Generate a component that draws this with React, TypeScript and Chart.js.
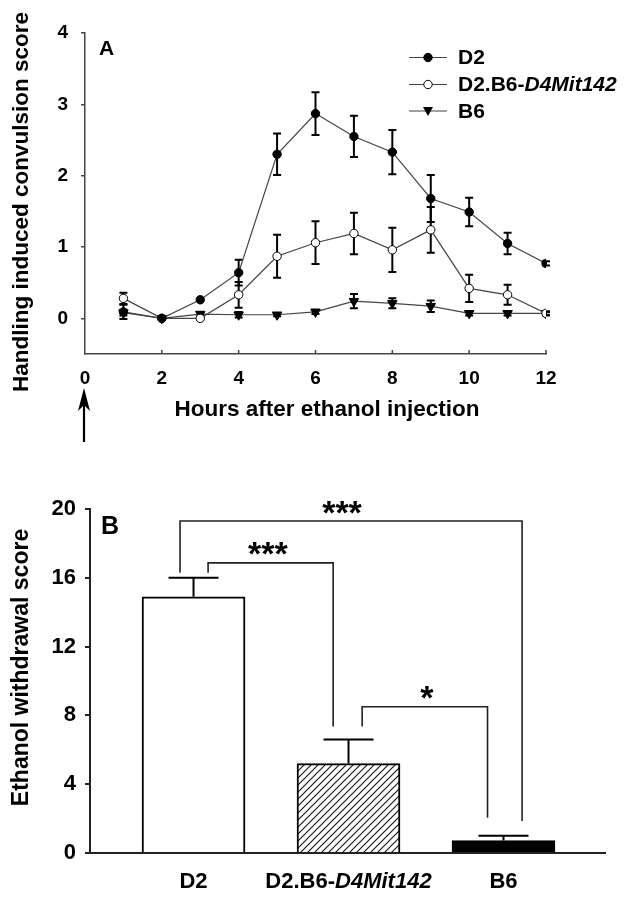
import React, { useEffect, useRef } from 'react';
import { Chart, registerables } from 'chart.js';

Chart.register(...registerables);

// ---------- Panel A data ----------
const hours = [1, 2, 3, 4, 5, 6, 7, 8, 9, 10, 11, 12];
const d2Scores = [0.09, 0, 0.26, 0.64, 2.3, 2.87, 2.55, 2.33, 1.68, 1.49, 1.05, 0.77];
const d2Sem = [0.1, 0, 0, 0.18, 0.29, 0.3, 0.29, 0.31, 0.33, 0.2, 0.15, 0.03];
const congenicScores = [0.28, 0, 0, 0.33, 0.87, 1.06, 1.19, 0.96, 1.24, 0.42, 0.33, 0.07];
const congenicSem = [0.08, 0, 0, 0.18, 0.3, 0.3, 0.29, 0.31, 0.32, 0.19, 0.14, 0.02];
const b6Scores = [0.08, 0, 0.06, 0.05, 0.05, 0.09, 0.24, 0.21, 0.17, 0.07, 0.07, 0.07];
const b6Sem = [0.04, 0, 0.03, 0.04, 0.02, 0.03, 0.1, 0.07, 0.08, 0.03, 0.03, 0.03];
const yTicksA = [0, 1, 2, 3, 4];
const seriesNames = ['D2', 'D2.B6-', 'B6'];
const seriesItalic = ['', 'D4Mit142', ''];

// ---------- Panel B data ----------
const groupLabels = ['D2', 'D2.B6-', 'B6'];
const groupItalic = ['', 'D4Mit142', ''];
const groupPos = [1, 2, 3];
const withdrawal = [14.9, 5.2, 0.72];
const withdrawalSem = [1.1, 1.4, 0.29];
// significance brackets (data units)
const bracketLeftX = [0.913, 1.094, 2.088];
const bracketRightX = [3.12, 1.901, 2.897];
const bracketTop = [19.3, 16.87, 8.5];
const bracketLeftEnd = [16.3, 16.3, 7.35];
const bracketRightEnd = [1.86, 7.35, 2.05];
const bracketLabelX = [1.958, 1.48, 2.506];
const bracketText = ['***', '***', '*'];

const FONT = "'Liberation Sans', Arial, Helvetica, sans-serif";

function makeHatch(): CanvasPattern | string {
  const c = document.createElement('canvas');
  c.width = 7;
  c.height = 7;
  const g = c.getContext('2d');
  if (!g) return '#888';
  g.fillStyle = '#fff';
  g.fillRect(0, 0, 7, 7);
  g.strokeStyle = '#111';
  g.lineWidth = 1.1;
  g.beginPath();
  g.moveTo(-1, 8);
  g.lineTo(8, -1);
  g.moveTo(-1, 1);
  g.lineTo(1, -1);
  g.moveTo(6, 8);
  g.lineTo(8, 6);
  g.stroke();
  return g.createPattern(c, 'repeat') || '#888';
}

function drawMixed(ctx: CanvasRenderingContext2D, plain: string, italic: string, cx: number, cy: number, size: number, align: 'center' | 'left') {
  ctx.save();
  ctx.textBaseline = 'middle';
  ctx.textAlign = 'left';
  ctx.fillStyle = '#000';
  ctx.font = `bold ${size}px ${FONT}`;
  const w1 = ctx.measureText(plain).width;
  ctx.font = `italic bold ${size}px ${FONT}`;
  const w2 = italic ? ctx.measureText(italic).width : 0;
  const x = align === 'center' ? cx - (w1 + w2) / 2 : cx;
  ctx.font = `bold ${size}px ${FONT}`;
  ctx.fillText(plain, x, cy);
  if (italic) {
    ctx.font = `italic bold ${size}px ${FONT}`;
    ctx.fillText(italic, x + w1, cy);
  }
  ctx.restore();
}

function drawMarker(ctx: CanvasRenderingContext2D, kind: number, x: number, y: number) {
  ctx.save();
  ctx.strokeStyle = '#000';
  ctx.lineWidth = 1;
  if (kind === 0 || kind === 1) {
    ctx.beginPath();
    ctx.arc(x, y, 4.2, 0, Math.PI * 2);
    ctx.fillStyle = kind === 0 ? '#000' : '#fff';
    ctx.fill();
    ctx.stroke();
  } else {
    ctx.beginPath();
    ctx.moveTo(x - 5, y - 4);
    ctx.lineTo(x + 5, y - 4);
    ctx.lineTo(x, y + 5);
    ctx.closePath();
    ctx.fillStyle = '#000';
    ctx.fill();
  }
  ctx.restore();
}

const seriesA = [
  { mean: d2Scores, err: d2Sem },
  { mean: congenicScores, err: congenicSem },
  { mean: b6Scores, err: b6Sem },
];

const errorBarsA = {
  id: 'errorBarsA',
  beforeDatasetsDraw(chart: any) {
    const { ctx, scales } = chart;
    const x = scales.x;
    const y = scales.y;
    ctx.save();
    ctx.strokeStyle = '#000';
    ctx.lineWidth = 2;
    seriesA.forEach((s) => {
      s.err.forEach((e, i) => {
        if (!e) return;
        const px = x.getPixelForValue(hours[i]);
        const top = y.getPixelForValue(s.mean[i] + e);
        const bot = y.getPixelForValue(s.mean[i] - e);
        ctx.beginPath();
        ctx.moveTo(px, top);
        ctx.lineTo(px, bot);
        ctx.moveTo(px - 4, top);
        ctx.lineTo(px + 4, top);
        ctx.moveTo(px - 4, bot);
        ctx.lineTo(px + 4, bot);
        ctx.stroke();
      });
    });
    ctx.restore();
  },
};

const decorA = {
  id: 'decorA',
  afterDraw(chart: any) {
    const { ctx, scales, chartArea } = chart;
    const x = scales.x;
    ctx.save();
    // inward x ticks
    ctx.strokeStyle = '#444';
    ctx.lineWidth = 1.5;
    x.ticks.forEach((t: any) => {
      if (t.value === 0) return;
      const px = x.getPixelForValue(t.value);
      ctx.beginPath();
      ctx.moveTo(px, chartArea.bottom);
      ctx.lineTo(px, chartArea.bottom - 4);
      ctx.stroke();
    });
    // panel letter
    ctx.fillStyle = '#000';
    ctx.font = `bold 21px ${FONT}`;
    ctx.textAlign = 'left';
    ctx.textBaseline = 'alphabetic';
    ctx.fillText('A', 99, 55);
    // axis titles
    ctx.font = `bold 22.5px ${FONT}`;
    ctx.textAlign = 'center';
    ctx.fillText('Hours after ethanol injection', 327, 416);
    ctx.save();
    ctx.translate(28, 202);
    ctx.rotate(-Math.PI / 2);
    ctx.fillText('Handling induced convulsion score', 0, 0);
    ctx.restore();
    // arrow
    const ax = x.getPixelForValue(0) - 1;
    ctx.strokeStyle = '#000';
    ctx.lineWidth = 2.2;
    ctx.beginPath();
    ctx.moveTo(ax, 442);
    ctx.lineTo(ax, 404);
    ctx.stroke();
    ctx.beginPath();
    ctx.moveTo(ax, 388);
    ctx.lineTo(ax - 6, 411);
    ctx.lineTo(ax, 405);
    ctx.lineTo(ax + 6, 411);
    ctx.closePath();
    ctx.fillStyle = '#000';
    ctx.fill();
    // legend
    const rows = [57.5, 84.5, 111];
    rows.forEach((ry, k) => {
      ctx.strokeStyle = '#444';
      ctx.lineWidth = 1.2;
      ctx.beginPath();
      ctx.moveTo(409, ry);
      ctx.lineTo(447, ry);
      ctx.stroke();
      drawMarker(ctx, k, 428, ry);
      drawMixed(ctx, seriesNames[k], seriesItalic[k], 458, ry + 1, 21, 'left');
    });
    ctx.restore();
  },
};

const decorB = {
  id: 'decorB',
  afterDatasetsDraw(chart: any) {
    const { ctx, scales } = chart;
    const x = scales.x;
    const y = scales.y;
    ctx.save();
    ctx.strokeStyle = '#000';
    ctx.lineWidth = 2;
    withdrawal.forEach((m, i) => {
      const px = x.getPixelForValue(groupPos[i]);
      const base = y.getPixelForValue(m);
      const top = y.getPixelForValue(m + withdrawalSem[i]);
      ctx.beginPath();
      ctx.moveTo(px, base);
      ctx.lineTo(px, top);
      ctx.moveTo(px - 25, top);
      ctx.lineTo(px + 25, top);
      ctx.stroke();
    });
    ctx.restore();
  },
  afterDraw(chart: any) {
    const { ctx, scales } = chart;
    const x = scales.x;
    const y = scales.y;
    ctx.save();
    // brackets
    ctx.strokeStyle = '#222';
    ctx.lineWidth = 1.6;
    bracketTop.forEach((t, i) => {
      const x1 = x.getPixelForValue(bracketLeftX[i]);
      const x2 = x.getPixelForValue(bracketRightX[i]);
      const yt = y.getPixelForValue(t);
      ctx.beginPath();
      ctx.moveTo(x1, y.getPixelForValue(bracketLeftEnd[i]));
      ctx.lineTo(x1, yt);
      ctx.lineTo(x2, yt);
      ctx.lineTo(x2, y.getPixelForValue(bracketRightEnd[i]));
      ctx.stroke();
      ctx.fillStyle = '#000';
      ctx.font = `bold 34px ${FONT}`;
      ctx.textAlign = 'center';
      ctx.textBaseline = 'alphabetic';
      ctx.fillText(bracketText[i], x.getPixelForValue(bracketLabelX[i]), yt - 17 + 19.5);
    });
    // category labels
    groupLabels.forEach((lab, i) => {
      drawMixed(ctx, lab, groupItalic[i], x.getPixelForValue(groupPos[i]), 421.5, 22, 'center');
    });
    // panel letter
    ctx.fillStyle = '#000';
    ctx.font = `bold 25px ${FONT}`;
    ctx.textAlign = 'left';
    ctx.textBaseline = 'alphabetic';
    ctx.fillText('B', 101, 73.5);
    // y title
    ctx.font = `bold 23px ${FONT}`;
    ctx.textAlign = 'center';
    ctx.save();
    ctx.translate(27.5, 207.5);
    ctx.rotate(-Math.PI / 2);
    ctx.fillText('Ethanol withdrawal score', 0, 0);
    ctx.restore();
    ctx.restore();
  },
};

function PanelA() {
  const ref = useRef<HTMLCanvasElement>(null);
  useEffect(() => {
    if (!ref.current) return;
    const pt = (arr: number[]) => hours.map((h, i) => ({ x: h, y: arr[i] }));
    const chart = new Chart(ref.current, {
      type: 'line',
      data: {
        datasets: [
          {
            label: 'D2',
            data: pt(d2Scores),
            borderColor: '#444',
            borderWidth: 1.2,
            pointStyle: 'circle',
            pointRadius: 4.2,
            pointBackgroundColor: '#000',
            pointBorderColor: '#000',
            pointBorderWidth: 1,
          },
          {
            label: 'D2.B6-D4Mit142',
            data: pt(congenicScores),
            borderColor: '#444',
            borderWidth: 1.2,
            pointStyle: 'circle',
            pointRadius: 4.2,
            pointBackgroundColor: '#fff',
            pointBorderColor: '#000',
            pointBorderWidth: 1,
          },
          {
            label: 'B6',
            data: pt(b6Scores),
            borderColor: '#444',
            borderWidth: 1.2,
            pointStyle: 'triangle',
            rotation: 180,
            pointRadius: 5.5,
            pointBackgroundColor: '#000',
            pointBorderColor: '#000',
            pointBorderWidth: 1,
          },
        ],
      },
      options: {
        animation: false,
        responsive: false,
        maintainAspectRatio: false,
        layout: { padding: { left: 0, top: 33, right: 97, bottom: 0 } },
        plugins: { legend: { display: false }, tooltip: { enabled: false } },
        scales: {
          x: {
            type: 'linear',
            min: 0,
            max: 12,
            afterFit: (s: any) => {
              s.height = 106;
            },
            ticks: { stepSize: 2, color: '#000', padding: 13, font: { family: FONT, size: 19, weight: 'bold' } },
            grid: { display: false, drawTicks: false },
            border: { display: true, color: '#444', width: 1.5 },
          },
          y: {
            type: 'linear',
            min: -0.5,
            max: 4,
            afterBuildTicks: (s: any) => {
              s.ticks = yTicksA.map((v) => ({ value: v }));
            },
            afterFit: (s: any) => {
              s.width = 85;
            },
            ticks: { color: '#000', padding: 13, font: { family: FONT, size: 19, weight: 'bold' } },
            grid: { display: true, drawOnChartArea: false, drawTicks: true, tickLength: 4, color: '#444', lineWidth: 1.5 },
            border: { display: true, color: '#444', width: 1.5 },
          },
        },
      },
      plugins: [errorBarsA, decorA],
    } as any);
    return () => chart.destroy();
  }, []);
  return <canvas ref={ref} width={643} height={460} style={{ position: 'absolute', left: 0, top: 0 }} />;
}

function PanelB() {
  const ref = useRef<HTMLCanvasElement>(null);
  useEffect(() => {
    if (!ref.current) return;
    const hatch = makeHatch();
    const chart = new Chart(ref.current, {
      type: 'bar',
      data: {
        datasets: [
          {
            data: groupPos.map((p, i) => ({ x: p, y: withdrawal[i] })),
            backgroundColor: ['#fff', hatch, '#000'],
            borderColor: '#000',
            borderWidth: 2,
            barThickness: 103,
          },
        ],
      },
      options: {
        animation: false,
        responsive: false,
        maintainAspectRatio: false,
        layout: { padding: { left: 0, top: 49, right: 38, bottom: 0 } },
        plugins: { legend: { display: false }, tooltip: { enabled: false } },
        scales: {
          x: {
            type: 'linear',
            min: 0.332,
            max: 3.655,
            offset: false,
            afterFit: (s: any) => {
              s.height = 46;
            },
            ticks: { display: false },
            grid: { display: false, drawTicks: false },
            border: { display: true, color: '#222', width: 2 },
          },
          y: {
            type: 'linear',
            min: 0,
            max: 20,
            afterFit: (s: any) => {
              s.width = 90;
            },
            ticks: { stepSize: 4, color: '#000', padding: 9, font: { family: FONT, size: 22, weight: 'bold' } },
            grid: { display: true, drawOnChartArea: false, drawTicks: true, tickLength: 5, color: '#222', lineWidth: 2 },
            border: { display: true, color: '#222', width: 2 },
          },
        },
      },
      plugins: [decorB],
    } as any);
    return () => chart.destroy();
  }, []);
  return <canvas ref={ref} width={643} height={439} style={{ position: 'absolute', left: 0, top: 460 }} />;
}

export default function App() {
  return (
    <div style={{ position: 'absolute', left: 0, top: 0, width: 643, height: 899, background: '#fff' }}>
      <PanelA />
      <PanelB />
    </div>
  );
}
